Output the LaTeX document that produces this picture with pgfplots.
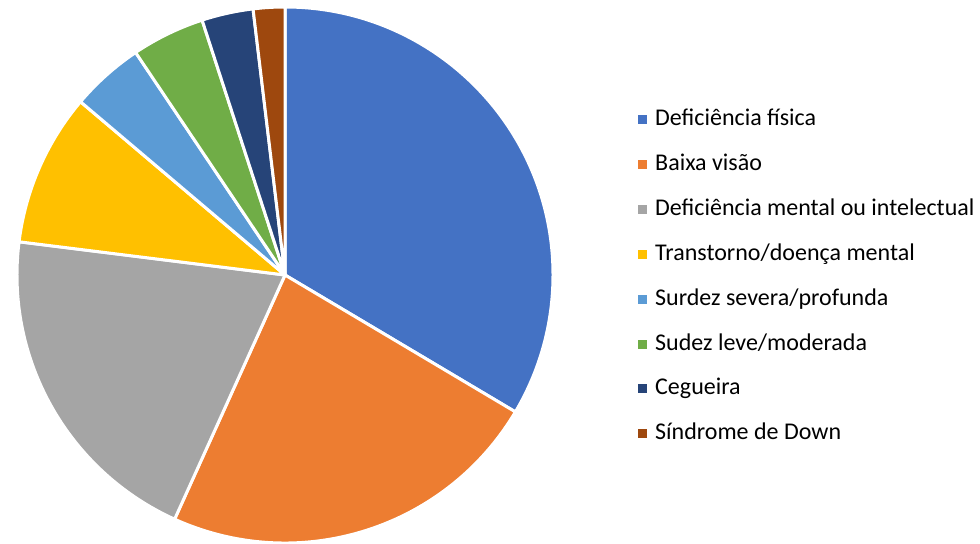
\documentclass[border=0pt]{standalone}
\usepackage{pgfplots}
\pgfplotsset{compat=1.18}
\usepackage{pgfplotstable}
\usepackage{fontspec}
\setmainfont{Carlito}

\definecolor{c0}{HTML}{4472C4}
\definecolor{c1}{HTML}{ED7D31}
\definecolor{c2}{HTML}{A5A5A5}
\definecolor{c3}{HTML}{FFC000}
\definecolor{c4}{HTML}{5B9BD5}
\definecolor{c5}{HTML}{70AD47}
\definecolor{c6}{HTML}{264478}
\definecolor{c7}{HTML}{9E480E}

\pgfplotstableread[col sep=semicolon]{
label;value
Deficiência física;33.5
Baixa visão;23.2
Deficiência mental ou intelectual;20.2
Transtorno/doença mental;9.2
Surdez severa/profunda;4.4
Sudez leve/moderada;4.4
Cegueira;3.1
Síndrome de Down;1.9
}\piedata

% total and cumulative angles
\def\total{0}
\pgfplotsforeachungrouped \i in {0,...,7}{%
  \pgfplotstablegetelem{\i}{value}\of\piedata
  \pgfmathsetmacro\tmp{\total+\pgfplotsretval}%
  \xdef\total{\tmp}%
}
\def\cumul{0}
\pgfplotsforeachungrouped \i in {0,...,7}{%
  \pgfmathsetmacro\sA{90-360*(\cumul/\total)}%
  \expandafter\xdef\csname sA\i\endcsname{\sA}%
  \pgfplotstablegetelem{\i}{value}\of\piedata
  \pgfmathsetmacro\tmp{\cumul+\pgfplotsretval}%
  \xdef\cumul{\tmp}%
  \pgfmathsetmacro\sB{90-360*(\cumul/\total)}%
  \expandafter\xdef\csname sB\i\endcsname{\sB}%
  \pgfplotstablegetelem{\i}{label}\of\piedata
  \expandafter\global\expandafter\let\csname lab\i\endcsname\pgfplotsretval
}

\begin{document}
\begin{tikzpicture}
\begin{axis}[
  width=980bp, height=543bp, scale only axis,
  xmin=0, xmax=980, ymin=0, ymax=543,
  hide axis,
]
\pgfplotsinvokeforeach{0,...,7}{%
  \fill[c#1, draw=white, line width=3bp, line join=round]
    (axis cs:285,268) -- ++(\csname sA#1\endcsname:268bp)
    arc[start angle=\csname sA#1\endcsname, end angle=\csname sB#1\endcsname, radius=268bp]
    -- cycle;
  \fill[c#1] (axis cs:638,{428-44.9*#1}) rectangle (axis cs:647,{419-44.9*#1});
  \node[anchor=base west, inner sep=0pt, font=\fontsize{24bp}{28bp}\selectfont]
    at (axis cs:655,{417.5-44.9*#1}) {\csname lab#1\endcsname};
}
\end{axis}
\pgfresetboundingbox
\path (current axis.south west) rectangle (current axis.north east);
\end{tikzpicture}
\end{document}
